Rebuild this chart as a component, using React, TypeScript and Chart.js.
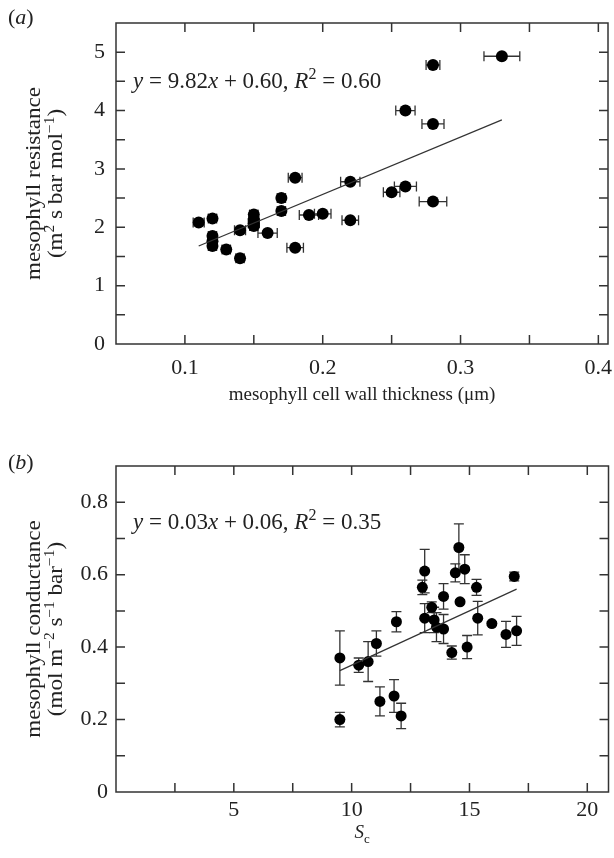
import React, { useEffect, useRef } from 'react';
import { Chart, registerables } from 'chart.js';

Chart.register(...registerables);

const FONT = '"Liberation Serif", "Times New Roman", serif';

// ---------- Panel (a) data ----------
const wallThickness = [0.11, 0.12, 0.12, 0.12, 0.12, 0.13, 0.14, 0.14, 0.15, 0.15, 0.15, 0.15, 0.16, 0.17, 0.17, 0.18, 0.18, 0.19, 0.20, 0.22, 0.22, 0.25, 0.26, 0.26, 0.28, 0.28, 0.28, 0.33];
const resistance = [2.08, 2.15, 1.85, 1.76, 1.68, 1.62, 1.95, 1.47, 2.22, 2.14, 2.07, 2.02, 1.90, 2.50, 2.28, 2.85, 1.65, 2.21, 2.23, 2.78, 2.12, 2.60, 2.70, 4.00, 4.78, 3.77, 2.44, 4.93];
const wallThicknessErr = [0.004, 0.003, 0.003, 0.003, 0.003, 0.003, 0.004, 0.003, 0.003, 0.003, 0.004, 0.003, 0.007, 0.003, 0.003, 0.005, 0.006, 0.007, 0.006, 0.007, 0.006, 0.006, 0.008, 0.007, 0.005, 0.008, 0.010, 0.013];
const fitAX = [0.11, 0.33];
const fitAY = [1.68, 3.84];
const xTickLabelsA = ['0.1', '0.2', '0.3', '0.4'];
const yTickLabelsA = ['0', '1', '2', '3', '4', '5'];

// ---------- Panel (b) data ----------
const sc = [9.5, 9.5, 10.3, 10.7, 11.05, 11.2, 11.8, 12.1, 11.9, 13.0, 13.1, 13.1, 13.4, 13.5, 13.6, 13.9, 13.9, 14.25, 14.4, 14.55, 14.6, 14.8, 14.9, 15.3, 15.35, 15.95, 16.55, 16.9, 17.0];
const conductance = [0.37, 0.20, 0.35, 0.36, 0.41, 0.25, 0.265, 0.21, 0.47, 0.565, 0.61, 0.48, 0.51, 0.475, 0.455, 0.54, 0.45, 0.385, 0.605, 0.675, 0.525, 0.615, 0.40, 0.565, 0.48, 0.465, 0.435, 0.595, 0.445];
const conductanceErr = [0.075, 0.02, 0.02, 0.055, 0.035, 0.04, 0.045, 0.035, 0.028, 0.02, 0.06, 0.04, 0.015, 0.035, 0.04, 0.035, 0.04, 0.018, 0.025, 0.065, 0.005, 0.04, 0.032, 0.022, 0.046, 0.005, 0.036, 0.012, 0.04];
const fitBX = [9.5, 17.0];
const fitBY = [0.335, 0.56];
const xTickLabelsB = ['5', '10', '15', '20'];
const yTickLabelsB = ['0', '0.2', '0.4', '0.6', '0.8'];

type Seg = { t: string; it?: boolean; sup?: boolean; sub?: boolean };

function drawRich(ctx: CanvasRenderingContext2D, segs: Seg[], x: number, y: number, size: number, align: 'left' | 'center') {
  const fontFor = (s: Seg) => `${s.it ? 'italic ' : ''}${s.sup || s.sub ? Math.round(size * 0.68) : size}px ${FONT}`;
  let w = 0;
  for (const s of segs) {
    ctx.font = fontFor(s);
    w += ctx.measureText(s.t).width;
  }
  let cx = align === 'center' ? x - w / 2 : x;
  ctx.textBaseline = 'alphabetic';
  ctx.textAlign = 'left';
  for (const s of segs) {
    ctx.font = fontFor(s);
    const dy = s.sup ? -size * 0.38 : s.sub ? size * 0.25 : 0;
    ctx.fillText(s.t, cx, y + dy);
    cx += ctx.measureText(s.t).width;
  }
}

const fmt = (v: number) => String(Number(v.toFixed(3)));
const onStep = (v: number, step: number) => Math.abs(v / step - Math.round(v / step)) < 1e-6;

type PanelCfg = {
  height: number;
  padTop: number;
  xHeight: number;
  xs: number[];
  ys: number[];
  err: number[];
  errDir: 'x' | 'y';
  fitX: number[];
  fitY: number[];
  xMin: number; xMax: number; xStep: number; xLabels: string[];
  yMin: number; yMax: number; yStep: number; yLabels: string[];
  xPad: number; yPad: number;
  radius: number;
  letter: string; letterY: number;
  eq: Seg[]; eqY: number;
  yTitle1: Seg[]; yTitle2: Seg[];
  xTitle: Seg[]; xTitleY: number;
};

function Panel({ cfg, top }: { cfg: PanelCfg; top: number }) {
  const ref = useRef<HTMLCanvasElement>(null);
  useEffect(() => {
    const canvas = ref.current;
    if (!canvas) return;
    const ink = '#222';
    const plugin = {
      id: 'decor',
      beforeDatasetsDraw(chart: any) {
        const ctx = chart.ctx as CanvasRenderingContext2D;
        const xs = chart.scales.x;
        const ys = chart.scales.y;
        ctx.save();
        ctx.strokeStyle = '#333';
        ctx.lineWidth = 1.3;
        const cap = 5;
        cfg.xs.forEach((xv, i) => {
          const yv = cfg.ys[i];
          const e = cfg.err[i];
          ctx.beginPath();
          if (cfg.errDir === 'x') {
            const p1 = xs.getPixelForValue(xv - e);
            const p2 = xs.getPixelForValue(xv + e);
            const py = ys.getPixelForValue(yv);
            ctx.moveTo(p1, py); ctx.lineTo(p2, py);
            ctx.moveTo(p1, py - cap); ctx.lineTo(p1, py + cap);
            ctx.moveTo(p2, py - cap); ctx.lineTo(p2, py + cap);
          } else {
            const px = xs.getPixelForValue(xv);
            const p1 = ys.getPixelForValue(yv - e);
            const p2 = ys.getPixelForValue(yv + e);
            ctx.moveTo(px, p1); ctx.lineTo(px, p2);
            ctx.moveTo(px - cap, p1); ctx.lineTo(px + cap, p1);
            ctx.moveTo(px - cap, p2); ctx.lineTo(px + cap, p2);
          }
          ctx.stroke();
        });
        ctx.restore();
      },
      afterDraw(chart: any) {
        const ctx = chart.ctx as CanvasRenderingContext2D;
        const ca = chart.chartArea;
        const xs = chart.scales.x;
        const ys = chart.scales.y;
        ctx.save();
        ctx.strokeStyle = '#333';
        ctx.lineWidth = 1.5;
        ctx.strokeRect(ca.left, ca.top, ca.right - ca.left, ca.bottom - ca.top);
        const L = 9;
        ctx.beginPath();
        xs.ticks.forEach((t: any) => {
          if (!onStep(t.value, cfg.xStep)) return;
          const px = xs.getPixelForValue(t.value);
          if (px <= ca.left + 1 || px >= ca.right - 1) return;
          ctx.moveTo(px, ca.bottom); ctx.lineTo(px, ca.bottom - L);
          ctx.moveTo(px, ca.top); ctx.lineTo(px, ca.top + L);
        });
        ys.ticks.forEach((t: any) => {
          if (!onStep(t.value, cfg.yStep)) return;
          const py = ys.getPixelForValue(t.value);
          if (py <= ca.top + 1 || py >= ca.bottom - 1) return;
          ctx.moveTo(ca.left, py); ctx.lineTo(ca.left + L, py);
          ctx.moveTo(ca.right, py); ctx.lineTo(ca.right - L, py);
        });
        ctx.stroke();

        ctx.fillStyle = ink;
        // panel letter
        drawRich(ctx, [{ t: '(' }, { t: cfg.letter, it: true }, { t: ')' }], 8, cfg.letterY, 22, 'left');
        // equation
        drawRich(ctx, cfg.eq, 133, cfg.eqY, 23, 'left');
        // x title
        drawRich(ctx, cfg.xTitle, (ca.left + ca.right) / 2, cfg.xTitleY, 19, 'center');
        // y title (two lines, rotated)
        const cy = (ca.top + ca.bottom) / 2;
        ctx.save();
        ctx.translate(40, cy);
        ctx.rotate(-Math.PI / 2);
        ctx.scale(1.1, 1);
        drawRich(ctx, cfg.yTitle1, 0, 0, 21, 'center');
        ctx.restore();
        ctx.save();
        ctx.translate(62, cy);
        ctx.rotate(-Math.PI / 2);
        ctx.scale(1.1, 1);
        drawRich(ctx, cfg.yTitle2, 0, 0, 21, 'center');
        ctx.restore();
        ctx.restore();
      },
    };

    const chart = new Chart(canvas, {
      type: 'scatter',
      data: {
        datasets: [
          {
            type: 'line',
            data: cfg.fitX.map((x, i) => ({ x, y: cfg.fitY[i] })),
            borderColor: '#333',
            borderWidth: 1.2,
            pointRadius: 0,
            fill: false,
          } as any,
          {
            data: cfg.xs.map((x, i) => ({ x, y: cfg.ys[i] })),
            pointRadius: cfg.radius,
            pointHoverRadius: cfg.radius,
            backgroundColor: '#000',
            borderWidth: 0,
          },
        ],
      },
      options: {
        responsive: false,
        animation: false,
        events: [],
        layout: { padding: { top: cfg.padTop, right: 5, left: 0, bottom: 0 } },
        plugins: { legend: { display: false }, tooltip: { enabled: false } },
        scales: {
          x: {
            type: 'linear',
            min: cfg.xMin,
            max: cfg.xMax,
            grid: { display: false, drawTicks: false },
            border: { display: false },
            ticks: {
              stepSize: cfg.xStep,
              includeBounds: false,
              autoSkip: false,
              maxRotation: 0,
              padding: cfg.xPad,
              color: ink,
              font: { family: FONT, size: 22 },
              callback: (v: any) => (cfg.xLabels.includes(fmt(Number(v))) ? fmt(Number(v)) : ''),
            },
            afterFit: (s: any) => {
              s.height = cfg.xHeight;
              s.paddingLeft = 0;
              s.paddingRight = 0;
            },
          },
          y: {
            type: 'linear',
            min: cfg.yMin,
            max: cfg.yMax,
            grid: { display: false, drawTicks: false },
            border: { display: false },
            ticks: {
              stepSize: cfg.yStep,
              includeBounds: false,
              autoSkip: false,
              padding: cfg.yPad,
              color: ink,
              font: { family: FONT, size: 22 },
              callback: (v: any) => (cfg.yLabels.includes(fmt(Number(v))) ? fmt(Number(v)) : ''),
            },
            afterFit: (s: any) => {
              s.width = 116;
              s.paddingTop = 0;
              s.paddingBottom = 0;
            },
          },
        },
      },
      plugins: [plugin],
    });
    return () => chart.destroy();
  }, []);
  return (
    <canvas
      ref={ref}
      width={614}
      height={cfg.height}
      style={{ position: 'absolute', left: 0, top, width: 614, height: cfg.height, display: 'block' }}
    />
  );
}

const panelA: PanelCfg = {
  height: 430,
  padTop: 23,
  xHeight: 430 - 344,
  xs: wallThickness,
  ys: resistance,
  err: wallThicknessErr,
  errDir: 'x',
  fitX: fitAX,
  fitY: fitAY,
  xMin: 0.05, xMax: 0.407, xStep: 0.05, xLabels: xTickLabelsA,
  yMin: 0, yMax: 5.5, yStep: 0.5, yLabels: yTickLabelsA,
  xPad: 11, yPad: 11,
  radius: 6,
  letter: 'a', letterY: 24,
  eq: [
    { t: 'y', it: true }, { t: ' = 9.82' }, { t: 'x', it: true }, { t: ' + 0.60, ' },
    { t: 'R', it: true }, { t: '2', sup: true }, { t: ' = 0.60' },
  ],
  eqY: 88,
  yTitle1: [{ t: 'mesophyll resistance' }],
  yTitle2: [{ t: '(m' }, { t: '2', sup: true }, { t: ' s bar mol' }, { t: '−1', sup: true }, { t: ')' }],
  xTitle: [{ t: 'mesophyll cell wall thickness (μm)' }],
  xTitleY: 400,
};

const panelB: PanelCfg = {
  height: 428,
  padTop: 36,
  xHeight: 428 - 362,
  xs: sc,
  ys: conductance,
  err: conductanceErr,
  errDir: 'y',
  fitX: fitBX,
  fitY: fitBY,
  xMin: 0, xMax: 20.9, xStep: 2.5, xLabels: xTickLabelsB,
  yMin: 0, yMax: 0.9, yStep: 0.1, yLabels: yTickLabelsB,
  xPad: 5, yPad: 8,
  radius: 5.5,
  letter: 'b', letterY: 39,
  eq: [
    { t: 'y', it: true }, { t: ' = 0.03' }, { t: 'x', it: true }, { t: ' + 0.06, ' },
    { t: 'R', it: true }, { t: '2', sup: true }, { t: ' = 0.35' },
  ],
  eqY: 99,
  yTitle1: [{ t: 'mesophyll conductance' }],
  yTitle2: [
    { t: '(mol m' }, { t: '−2', sup: true }, { t: ' s' }, { t: '−1', sup: true },
    { t: ' bar' }, { t: '−1', sup: true }, { t: ')' },
  ],
  xTitle: [{ t: 'S', it: true }, { t: 'c', sub: true }],
  xTitleY: 408,
};

export default function App() {
  return (
    <div style={{ position: 'absolute', left: 0, top: 0, width: 614, height: 858, background: '#fff' }}>
      <Panel cfg={panelA} top={0} />
      <Panel cfg={panelB} top={430} />
    </div>
  );
}
